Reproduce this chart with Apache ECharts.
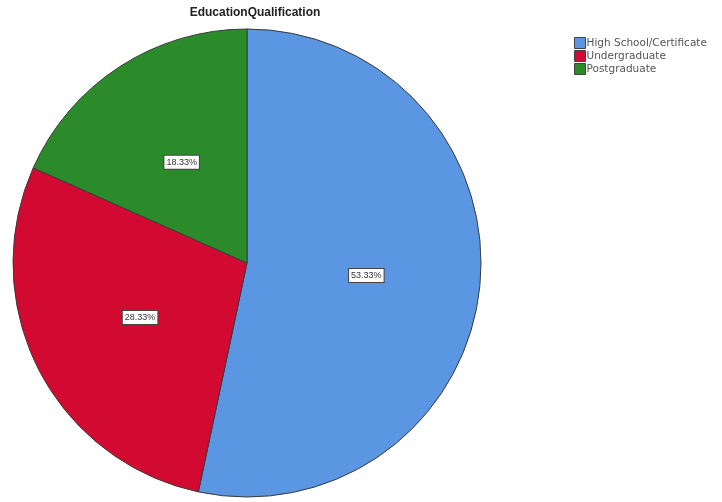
<!DOCTYPE html>
<html>
<head>
<meta charset="utf-8">
<script src="https://cdn.jsdelivr.net/npm/echarts@6/dist/echarts.min.js"></script>
<style>
  html, body { margin: 0; padding: 0; background: #fff; }
  #chart { width: 722px; height: 502px; }
</style>
</head>
<body>
<div id="chart"></div>
<script>
// counts (n = 60) -> 53.33%, 28.33%, 18.33%
const categories = ["High School/Certificate", "Undergraduate", "Postgraduate"];
const counts = [32, 17, 11];
const colors = ["#5b96e3", "#d20a32", "#2b8b2b"];

const total = counts.reduce((a, b) => a + b, 0);

const chart = echarts.init(document.getElementById("chart"));

const option = {
    animation: false,
    color: colors,
    title: {
        text: "EducationQualification",
        left: 250,
        textAlign: "center",
        top: 2,
        textStyle: {
            fontFamily: "Liberation Sans",
            fontSize: 12,
            fontWeight: "bold",
            color: "#222",
        },
    },
    legend: {
        orient: "vertical",
        left: 569,
        top: 32,
        itemWidth: 11,
        itemHeight: 11,
        itemGap: 1,
        icon: "rect",
        itemStyle: { borderColor: "#444", borderWidth: 1 },
        textStyle: {
            fontFamily: "DejaVu Sans",
            fontSize: 10.5,
            color: "#555",
            padding: [0, 0, 0, -4],
        },
        data: categories,
    },
    series: [
        {
            type: "pie",
            center: [247, 263],
            radius: [0, 234],
            startAngle: 90,
            clockwise: true,
            itemStyle: { borderColor: "#3a3a3a", borderWidth: 1 },
            emphasis: { disabled: true },
            label: {
                show: true,
                position: "inside",
                formatter: (p) => ((p.value / total) * 100).toFixed(2) + "%",
                fontFamily: "Liberation Sans",
                fontSize: 9,
                color: "#333",
                backgroundColor: "#fff",
                borderColor: "#444",
                borderWidth: 1,
                padding: [2, 2],
            },
            labelLine: { show: false },
            data: categories.map((name, i) => ({ name, value: counts[i] })),
        },
    ],
};

chart.setOption(option);
</script>
</body>
</html>
